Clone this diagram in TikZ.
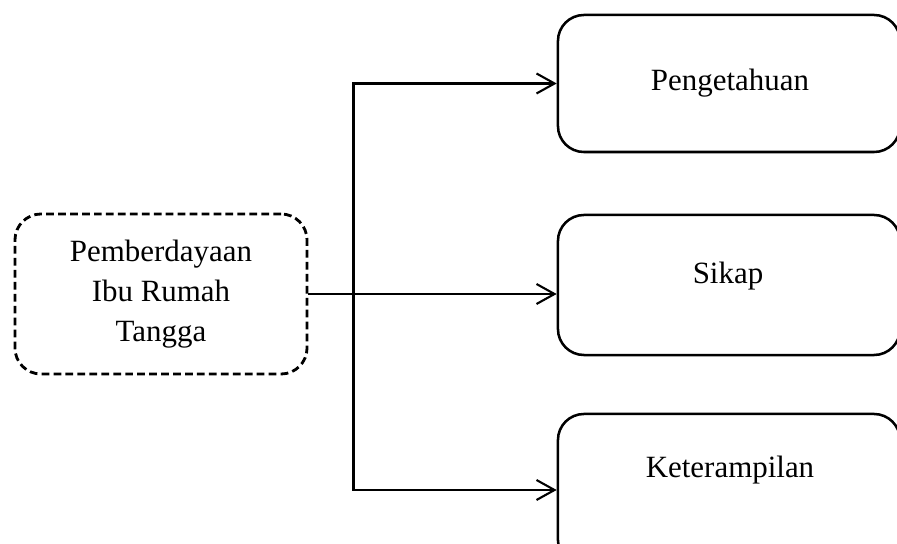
\documentclass[tikz,border=0pt]{standalone}
\usepackage{fontspec}
\setmainfont{Liberation Serif}
\usetikzlibrary{arrows.meta, positioning}
\begin{document}
\begin{tikzpicture}[x=0.025cm, y=-0.025cm,
        db/.style={rectangle, rounded corners=0.65cm, draw, line width=2pt,
                   dash pattern=on 5.5pt off 3pt, minimum width=7.3cm,
                   minimum height=4.0cm, align=center, font=\fontsize{22}{28.5}\selectfont},
        rb/.style={rectangle, rounded corners=0.65cm, draw, line width=1.8pt,
                   minimum width=8.55cm},
        lab/.style={font=\fontsize{22}{28.5}\selectfont},
        arr/.style={line width=1.5pt, -{Straight Barb[length=0.45cm, width=0.5cm, line width=1.5pt]}}]
      \path[use as bounding box, clip] (0,0) rectangle (897,544);
      \node[db] (ibu) at (161,294) {Pemberdayaan\\Ibu Rumah\\Tangga};
      \node[rb, minimum height=3.425cm] (peng) at (729,83.5) {};
      \node[rb, minimum height=3.5cm] (sikap) at (729,285) {};
      \node[rb, minimum height=3.8cm] (ket) at (729,490) {};
      \node[lab] (pengl) at (730,83) {Pengetahuan};
      \node[lab] (sikapl) at (728,276) {Sikap};
      \node[lab] (ketl) at (730,470) {Keterampilan};
      \coordinate[right=1.125cm of ibu.east] (j);
      \draw[arr] (ibu.east) -- (ibu.east -| sikap.west);
      \draw[arr] (j) |- (peng.west);
      \draw[arr] (j) |- (ket.west);
    \end{tikzpicture}
\end{document}
